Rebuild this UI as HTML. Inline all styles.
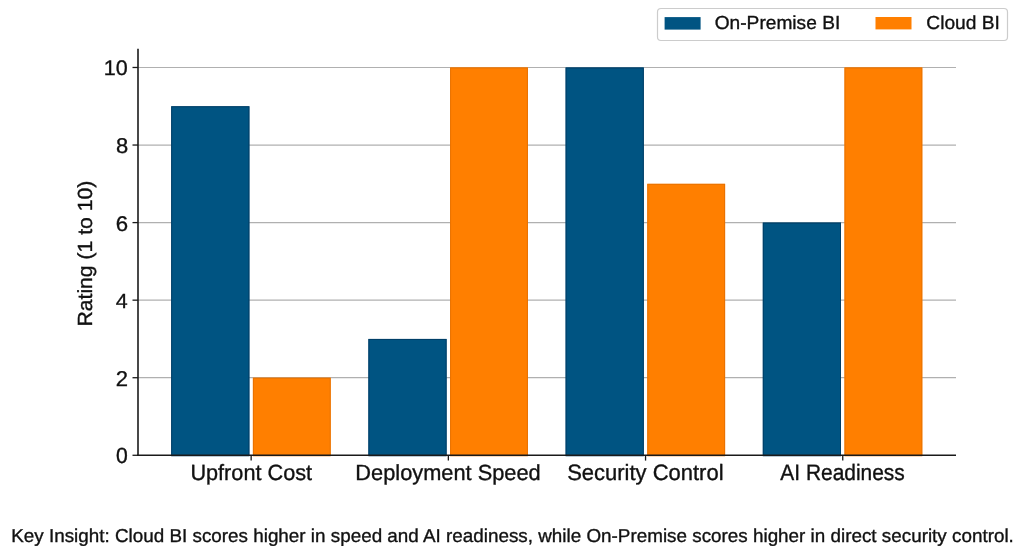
<!DOCTYPE html>
<html><head><meta charset="utf-8"><style>
html,body{margin:0;padding:0;background:#fff;width:1024px;height:558px;overflow:hidden}
svg{display:block;will-change:transform}
text{font-family:"Liberation Sans",sans-serif;fill:#111;stroke:#111;stroke-width:0.35px;text-rendering:geometricPrecision}
</style></head><body>
<svg width="1024" height="558" viewBox="0 0 1024 558">
<line x1="138" x2="956" y1="377.72" y2="377.72" stroke="#b0b0b0" stroke-width="1.2"/>
<line x1="138" x2="956" y1="300.16" y2="300.16" stroke="#b0b0b0" stroke-width="1.2"/>
<line x1="138" x2="956" y1="222.60" y2="222.60" stroke="#b0b0b0" stroke-width="1.2"/>
<line x1="138" x2="956" y1="145.04" y2="145.04" stroke="#b0b0b0" stroke-width="1.2"/>
<line x1="138" x2="956" y1="67.48" y2="67.48" stroke="#b0b0b0" stroke-width="1.2"/>
<rect x="171.20" y="106.26" width="78.2" height="349.02" fill="#005482"/>
<rect x="252.90" y="377.72" width="77.8" height="77.56" fill="#ff7f00"/>
<rect x="171.70" y="106.76" width="77.2" height="349.02" fill="none" stroke="#003e66" stroke-width="1"/>
<rect x="253.40" y="378.22" width="76.8" height="77.56" fill="none" stroke="#e87200" stroke-width="1"/>
<rect x="368.40" y="338.94" width="78.2" height="116.34" fill="#005482"/>
<rect x="450.10" y="67.48" width="77.8" height="387.80" fill="#ff7f00"/>
<rect x="368.90" y="339.44" width="77.2" height="116.34" fill="none" stroke="#003e66" stroke-width="1"/>
<rect x="450.60" y="67.98" width="76.8" height="387.80" fill="none" stroke="#e87200" stroke-width="1"/>
<rect x="565.60" y="67.48" width="78.2" height="387.80" fill="#005482"/>
<rect x="647.30" y="183.82" width="77.8" height="271.46" fill="#ff7f00"/>
<rect x="566.10" y="67.98" width="77.2" height="387.80" fill="none" stroke="#003e66" stroke-width="1"/>
<rect x="647.80" y="184.32" width="76.8" height="271.46" fill="none" stroke="#e87200" stroke-width="1"/>
<rect x="762.80" y="222.60" width="78.2" height="232.68" fill="#005482"/>
<rect x="844.50" y="67.48" width="77.8" height="387.80" fill="#ff7f00"/>
<rect x="763.30" y="223.10" width="77.2" height="232.68" fill="none" stroke="#003e66" stroke-width="1"/>
<rect x="845.00" y="67.98" width="76.8" height="387.80" fill="none" stroke="#e87200" stroke-width="1"/>
<line x1="138" x2="138" y1="48.8" y2="455.9" stroke="#1a1a1a" stroke-width="1.6"/>
<line x1="137.2" x2="956" y1="455.25" y2="455.25" stroke="#1a1a1a" stroke-width="1.4"/>
<line x1="132.5" x2="138" y1="455.28" y2="455.28" stroke="#1a1a1a" stroke-width="1.3"/>
<line x1="132.5" x2="138" y1="377.72" y2="377.72" stroke="#1a1a1a" stroke-width="1.3"/>
<line x1="132.5" x2="138" y1="300.16" y2="300.16" stroke="#1a1a1a" stroke-width="1.3"/>
<line x1="132.5" x2="138" y1="222.60" y2="222.60" stroke="#1a1a1a" stroke-width="1.3"/>
<line x1="132.5" x2="138" y1="145.04" y2="145.04" stroke="#1a1a1a" stroke-width="1.3"/>
<line x1="132.5" x2="138" y1="67.48" y2="67.48" stroke="#1a1a1a" stroke-width="1.3"/>
<line x1="251.15" x2="251.15" y1="455.2" y2="460.6" stroke="#1a1a1a" stroke-width="1.3"/>
<line x1="448.35" x2="448.35" y1="455.2" y2="460.6" stroke="#1a1a1a" stroke-width="1.3"/>
<line x1="645.55" x2="645.55" y1="455.2" y2="460.6" stroke="#1a1a1a" stroke-width="1.3"/>
<line x1="842.75" x2="842.75" y1="455.2" y2="460.6" stroke="#1a1a1a" stroke-width="1.3"/>
<rect x="657.5" y="8.5" width="350" height="32" rx="3.5" fill="#fff" stroke="#cccccc" stroke-width="1.2"/>
<rect x="664.6" y="17.1" width="36" height="12.5" fill="#005482"/>
<rect x="875.5" y="17" width="36" height="12.4" fill="#ff7f00"/>
<text transform="matrix(0.97870 0 0 0.95882 98.760 -135.556)" x="5" y="220" font-size="22">10</text>
<text transform="matrix(0.96181 0 0 0.99955 111.230 433.268)" x="5" y="30" font-size="22">0</text>
<text transform="matrix(0.97500 0 0 0.92650 110.807 209.324)" x="5" y="106" font-size="22">4</text>
<text transform="matrix(0.98506 0 0 1.00345 185.468 221.582)" x="5" y="258" font-size="22">Upfront Cost</text>
<text transform="matrix(0.99054 0 0 0.99176 350.399 186.582)" x="5" y="296" font-size="22">Deployment Speed</text>
<text transform="matrix(0.99902 0 0 1.00965 562.165 142.941)" x="5" y="334" font-size="22">Security Control</text>
<text transform="matrix(0.95112 0 0 1.01591 775.588 102.075)" x="5" y="372" font-size="22">AI Readiness</text>
<text transform="matrix(1.00789 0 0 0.99256 709.649 -415.352)" x="5" y="448" font-size="19">On-Premise BI</text>
<text transform="matrix(1.01079 0 0 0.99256 921.208 -453.069)" x="5" y="486" font-size="19">Cloud BI</text>
<text transform="matrix(1.01885 0 0 1.00948 6.114 441.178)" x="5" y="100" font-size="18.5">Key Insight: Cloud BI scores higher in speed and AI readiness, while On-Premise scores higher in direct security control.</text>
<text transform="matrix(0 -1.05830 1.02324 0 -327.550 331.828)" x="5" y="410" font-size="20">Rating (1 to 10)</text>
<text transform="matrix(1.00175 0 0 0.97394 110.695 319.775)" x="5" y="68" font-size="22">2</text>
<text transform="matrix(1.00977 0 0 0.96983 110.672 91.099)" x="5" y="144" font-size="22">6</text>
<text transform="matrix(0.99720 0 0 0.97392 110.908 -24.230)" x="5" y="182" font-size="22">8</text>
</svg>
</body></html>
